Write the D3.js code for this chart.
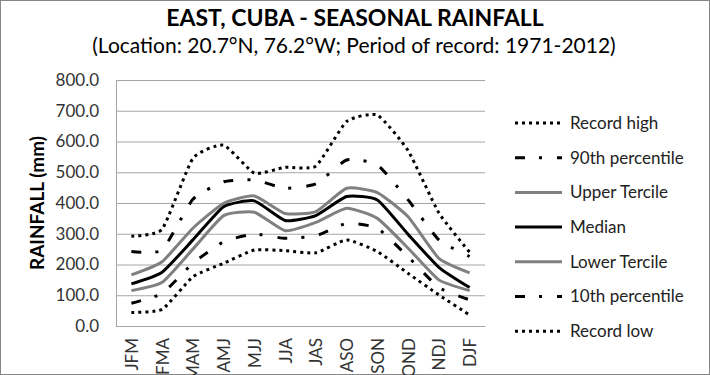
<!DOCTYPE html>
<html>
<head>
<meta charset="utf-8">
<script src="https://cdn.jsdelivr.net/npm/d3@7"></script>
<style>
  body { margin: 0; background: #fff; }
  text { font-family: Lato, "Open Sans", sans-serif; }
</style>
</head>
<body>
<div id="container"></div>
<script>
const seasons = ["JFM", "FMA", "MAM", "AMJ", "MJJ", "JJA", "JAS", "ASO", "SON", "OND", "NDJ", "DJF"];

const recordHigh = [292, 315, 545, 588, 497, 516, 520, 665, 686, 570, 368, 240];
const pct90      = [242, 247, 412, 469, 475, 448, 462, 540, 524, 410, 280, 226];
const upperTerc  = [166, 209, 318, 399, 423, 366, 372, 448, 434, 355, 220, 173];
const median     = [137, 175, 280, 388, 407, 343, 359, 421, 410, 298, 191, 125];
const lowerTerc  = [115, 142, 250, 359, 370, 310, 337, 383, 350, 253, 150, 115];
const pct10      = [74, 106, 204, 274, 299, 285, 293, 334, 318, 225, 125, 85];
const recordLow  = [44, 54, 160, 204, 247, 245, 238, 280, 242, 171, 101, 36];

const yTicks = [0, 100, 200, 300, 400, 500, 600, 700, 800];

const width = 710;
const height = 375;
const margin = { top: 80, right: 225, bottom: 49, left: 116 };

const series = [
  { name: "Record high", values: recordHigh, color: "#000", width: 3, dash: "3,4" },
  { name: "90th percentile", values: pct90, color: "#000", width: 3, dash: "10,14,3,15" },
  { name: "Upper Tercile", values: upperTerc, color: "#808080", width: 3, dash: null },
  { name: "Median", values: median, color: "#000", width: 3, dash: null },
  { name: "Lower Tercile", values: lowerTerc, color: "#808080", width: 3, dash: null },
  { name: "10th percentile", values: pct10, color: "#000", width: 3, dash: "10,14,3,15" },
  { name: "Record low", values: recordLow, color: "#000", width: 3, dash: "3,4" }
];

const x = d3.scalePoint()
    .domain(seasons)
    .range([margin.left, width - margin.right])
    .padding(0.5);

const y = d3.scaleLinear()
    .domain([0, 800])
    .range([height - margin.bottom, margin.top]);

const svg = d3.create("svg")
    .attr("width", width)
    .attr("height", height);

// chart frame
svg.append("rect")
    .attr("x", 0.5).attr("y", 0.5)
    .attr("width", width - 1).attr("height", height - 1)
    .attr("fill", "#fff")
    .attr("stroke", "#868686");

// gridlines
svg.append("g")
    .attr("transform", `translate(${margin.left},0)`)
    .call(d3.axisLeft(y).tickValues(yTicks).tickSize(-(width - margin.right - margin.left)).tickFormat(""))
    .call(g => g.select(".domain").remove())
    .call(g => g.selectAll("line").attr("stroke", "#a6a6a6").attr("stroke-width", 1));

// y axis
svg.append("g")
    .attr("transform", `translate(${margin.left},0)`)
    .call(d3.axisLeft(y).tickValues(yTicks).tickSize(0).tickPadding(17).tickFormat(d3.format(".1f")))
    .call(g => g.select(".domain").attr("stroke", "#a6a6a6"))
    .call(g => g.selectAll("text").attr("font-size", 17).attr("fill", "#333"));

// x axis
svg.append("g")
    .attr("transform", `translate(0,${height - margin.bottom})`)
    .call(d3.axisBottom(x).tickSize(0).tickPadding(0))
    .call(g => g.select(".domain").attr("stroke", "#a6a6a6"))
    .call(g => g.selectAll("text")
        .attr("font-size", 17)
        .attr("fill", "#333")
        .attr("text-anchor", "end")
        .attr("transform", "rotate(-90)")
        .attr("x", -12)
        .attr("y", 0)
        .attr("dy", "0.35em"));

const line = d3.line()
    .x((d, i) => x(seasons[i]))
    .y(d => y(d))
    .curve(d3.curveCardinal.tension(0.5));

svg.append("g")
  .selectAll("path")
  .data(series)
  .join("path")
    .attr("fill", "none")
    .attr("stroke", d => d.color)
    .attr("stroke-width", d => d.width)
    .attr("stroke-dasharray", d => d.dash)
    .attr("d", d => line(d.values));

// legend
const legend = svg.append("g")
  .selectAll("g")
  .data(series)
  .join("g")
    .attr("transform", (d, i) => `translate(515,${123 + i * 34.7})`);

legend.append("line")
    .attr("x1", 0).attr("x2", 47)
    .attr("stroke", d => d.color)
    .attr("stroke-width", d => d.width)
    .attr("stroke-dasharray", d => d.dash);

legend.append("text")
    .attr("x", 55)
    .attr("dy", "0.35em")
    .attr("font-size", 17)
    .attr("fill", "#222")
    .text(d => d.name);

// titles
svg.append("text")
    .attr("x", 355).attr("y", 26)
    .attr("text-anchor", "middle")
    .attr("font-size", 23)
    .attr("font-weight", "bold")
    .text("EAST, CUBA - SEASONAL RAINFALL");

svg.append("text")
    .attr("x", 354).attr("y", 53)
    .attr("text-anchor", "middle")
    .attr("font-size", 21)
    .text("(Location: 20.7°N, 76.2°W; Period of record: 1971-2012)");

svg.append("text")
    .attr("transform", `translate(44,203) rotate(-90)`)
    .attr("text-anchor", "middle")
    .attr("font-size", 19)
    .attr("font-weight", "bold")
    .text("RAINFALL (mm)");

document.getElementById("container").append(svg.node());
</script>
</body>
</html>
